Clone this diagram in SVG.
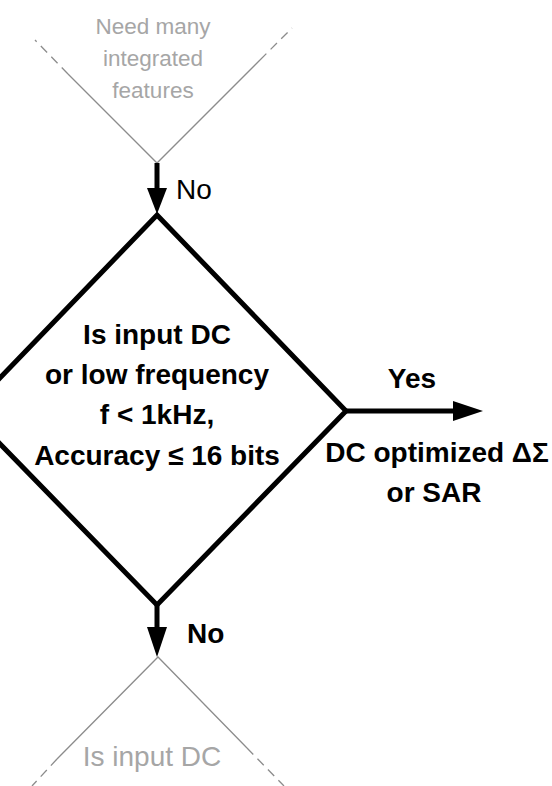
<svg xmlns="http://www.w3.org/2000/svg" width="552" height="786" viewBox="0 0 552 786">
<style>
.faded{fill:none;stroke:#8c8c8c;stroke-width:1.3}
.fadeddash{fill:none;stroke:#8c8c8c;stroke-width:1.3;stroke-dasharray:9,6}
.ftext{font-family:"Liberation Sans",Arial,sans-serif;font-size:22.5px;fill:#a6a6a6;text-anchor:middle}
.ftext2{font-family:"Liberation Sans",Arial,sans-serif;font-size:28px;fill:#a6a6a6;text-anchor:middle}
.main{fill:#ffffff;stroke:#000;stroke-width:5;stroke-linejoin:miter}
.mtext{font-family:"Liberation Sans",Arial,sans-serif;font-size:28px;font-weight:bold;fill:#000;text-anchor:middle}
.shaft{stroke:#000;stroke-width:5;fill:none}
.head{fill:#000;stroke:none}
.lbl{font-family:"Liberation Sans",Arial,sans-serif;font-size:28px;fill:#000}
.lblb{font-family:"Liberation Sans",Arial,sans-serif;font-size:28px;font-weight:bold;fill:#000}
</style>
<rect width="552" height="786" fill="#ffffff"/>
<g id="node-top">
<path class="faded" d="M68,74 L157,163 L260,60"/>
<path class="fadeddash" d="M68,74 L35,40 M260,60 L292,28"/>
<text class="ftext" x="153" y="34">Need many</text>
<text class="ftext" x="153" y="66">integrated</text>
<text class="ftext" x="153" y="98">features</text>
</g>
<g id="node-main">
<polygon class="main" points="157,215 346,411 157,605 -32,411"/>
<text class="mtext" x="157" y="344">Is input DC</text>
<text class="mtext" x="157" y="384">or low frequency</text>
<text class="mtext" x="157" y="424">f &lt; 1kHz,</text>
<text class="mtext" x="157" y="465">Accuracy ≤ 16 bits</text>
</g>
<g id="node-bottom">
<path class="faded" d="M57,759 L158,657 L247,748"/>
<path class="fadeddash" d="M57,759 L32,786 M247,748 L284,786"/>
<text class="ftext2" x="152" y="766">Is input DC</text>
</g>
<g id="node-result">
<text class="lblb" x="437" y="462" text-anchor="middle">DC optimized ΔΣ</text>
<text class="lblb" x="434" y="502" text-anchor="middle">or SAR</text>
</g>
<g id="connectors">
<line class="shaft" x1="157" y1="163" x2="157" y2="190"/>
<polygon class="head" points="147,188 167,188 157,214"/>
<text class="lbl" x="176" y="199">No</text>
<line class="shaft" x1="157" y1="605" x2="157" y2="630"/>
<polygon class="head" points="147,627 167,627 157,657"/>
<text class="lblb" x="187" y="643">No</text>
<line class="shaft" x1="346" y1="411" x2="456" y2="411"/>
<polygon class="head" points="453,401 483,411 453,421"/>
<text class="lblb" x="412" y="388" text-anchor="middle">Yes</text>
</g>
</svg>
